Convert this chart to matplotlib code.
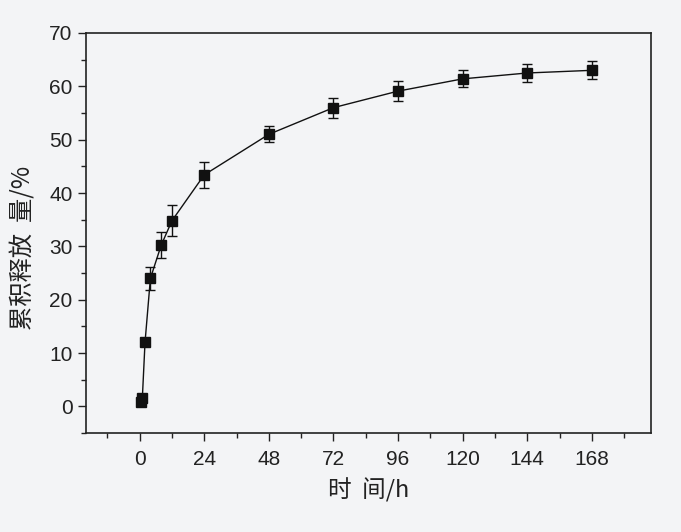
import numpy as np
import matplotlib
matplotlib.use('Agg')
import matplotlib.pyplot as plt

# release data
hours = [0.5, 1, 2, 4, 8, 12, 24, 48, 72, 96, 120, 144, 168]
release = [0.8, 1.5, 12.0, 24.0, 30.2, 34.8, 43.4, 51.0, 56.0, 59.1, 61.4, 62.5, 63.0]
err = [0.3, 0.4, 0.5, 2.2, 2.4, 2.9, 2.5, 1.5, 1.9, 1.9, 1.6, 1.7, 1.7]

xticks = [0, 24, 48, 72, 96, 120, 144, 168]
yticks = [0, 10, 20, 30, 40, 50, 60, 70]

plt.rcParams['font.family'] = ['Liberation Sans', 'DejaVu Sans']
bg = '#f3f4f6'

fig = plt.figure(figsize=(6.81, 5.32), dpi=100, facecolor=bg)
ax = fig.add_axes([0.126, 0.186, 0.83, 0.752], facecolor=bg)

ax.errorbar(hours, release, yerr=err, fmt='s-', color='#111111', ms=6.5,
            lw=1.0, elinewidth=1.0, capsize=3.5, capthick=1.0)

ax.set_xlim(-20, 190)
ax.set_ylim(-5, 70)
ax.set_xticks(xticks)
ax.set_xticks(np.arange(-12, 190, 24), minor=True)
ax.set_yticks(yticks)
ax.set_yticks(np.arange(-5, 70, 10), minor=True)
ax.tick_params(which='major', direction='out', length=6, width=1, labelsize=15, colors='#222222')
ax.tick_params(which='minor', direction='out', length=3.5, width=1, colors='#222222')
ax.tick_params(axis='x', pad=6)
for s in ax.spines.values():
    s.set_linewidth(1.2)
    s.set_color('#222222')

cjk = ['Noto Sans CJK SC', 'DejaVu Sans']
ax.set_xlabel('时  间/h', family=cjk, fontsize=17, color='#222222', labelpad=7)
ax.set_ylabel('累积释放  量/%', family=cjk, fontsize=17.5, color='#222222')
ax.yaxis.set_label_coords(-0.087, 0.4625)

fig.savefig('out.png', dpi=100, facecolor=bg)
